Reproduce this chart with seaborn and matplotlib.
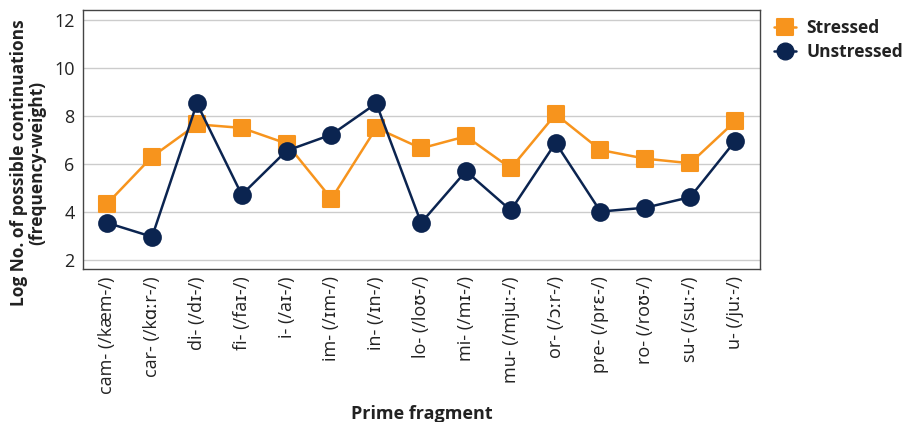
import matplotlib
matplotlib.use("Agg")
import matplotlib.pyplot as plt
from matplotlib.markers import MarkerStyle
from matplotlib.lines import Line2D
import seaborn as sns
import pandas as pd

fragments = [
    "cam- (/kæm-/)", "car- (/kɑːr-/)", "di- (/dɪ-/)", "fi- (/faɪ-/)",
    "i- (/aɪ-/)", "im- (/ɪm-/)", "in- (/ɪn-/)", "lo- (/loʊ-/)",
    "mi- (/mɪ-/)", "mu- (/mjuː-/)", "or- (/ɔːr-/)", "pre- (/prɛ-/)",
    "ro- (/roʊ-/)", "su- (/suː-/)", "u- (/juː-/)",
]
stressed = [4.35, 6.3, 7.65, 7.5, 6.85, 4.55, 7.5, 6.65, 7.15, 5.82,
            8.07, 6.58, 6.22, 6.03, 7.77]
unstressed = [3.55, 2.97, 8.52, 4.72, 6.55, 7.22, 8.52, 3.55, 5.7, 4.07,
              6.88, 4.02, 4.18, 4.62, 6.95]

series_names = ["Stressed", "Unstressed"]
colors = {"Stressed": "#F7941D", "Unstressed": "#0B2450"}

df = pd.DataFrame({
    "fragment": fragments * 2,
    "x": list(range(len(fragments))) * 2,
    "value": stressed + unstressed,
    "series": ["Stressed"] * len(fragments) + ["Unstressed"] * len(fragments),
})

sns.set_theme(style="white")
plt.rcParams["font.family"] = ["Open Sans", "DejaVu Sans"]

fig = plt.figure(figsize=(9.12, 4.22), dpi=100)
ax = fig.add_axes([0.091, 0.362, 0.742, 0.614])

sns.lineplot(data=df, x="x", y="value", hue="series", hue_order=series_names,
             palette=colors, linewidth=1.8, legend=False, ax=ax, zorder=3)

marker_shapes = {
    "Stressed": MarkerStyle("s", joinstyle="round"),
    "Unstressed": MarkerStyle("o"),
}
for line, name in zip(ax.get_lines(), series_names):
    line.set_marker(marker_shapes[name])
    line.set_markersize(11.5 if name == "Stressed" else 12)
    line.set_markerfacecolor(colors[name])
    line.set_markeredgecolor(colors[name])
    line.set_markeredgewidth(1.5)
    if name == "Unstressed":
        line.set_zorder(4)

ax.set_xlim(-0.54, 14.55)
ax.set_ylim(1.62, 12.4)
ax.set_yticks([2, 4, 6, 8, 10, 12])
ax.set_xticks(range(len(fragments)))
ax.set_xticklabels(fragments, rotation=90, fontsize=13, color="#222222")
ax.tick_params(axis="y", labelsize=13, labelcolor="#222222", length=0, pad=6)
ax.tick_params(axis="x", length=0, pad=5)

ax.yaxis.grid(True, color="#cccccc", linewidth=1.0)
ax.set_axisbelow(True)
for sp in ax.spines.values():
    sp.set_color("#444444")
    sp.set_linewidth(1.0)

ax.set_xlabel("Prime fragment", fontsize=13, fontweight="bold", color="#222222",
              labelpad=8)
ax.set_ylabel("Log No. of possible continuations\n(frequency-weight)",
              fontsize=12.5, fontweight="bold", color="#222222", labelpad=6,
              linespacing=1.0)
ax.yaxis.label.set_y(0.41)

handles = [
    Line2D([], [], color=colors["Stressed"], linewidth=1.8,
           marker=marker_shapes["Stressed"], markersize=11.5,
           markeredgewidth=1.5),
    Line2D([], [], color=colors["Unstressed"], linewidth=1.8,
           marker="o", markersize=12),
]
leg = ax.legend(handles, series_names, loc="upper left",
                bbox_to_anchor=(1.0, 1.02), frameon=False, fontsize=12.5,
                handlelength=1.3, handletextpad=0.6, labelspacing=0.35,
                borderaxespad=0.4)
for t in leg.get_texts():
    t.set_fontweight("bold")
    t.set_color("#222222")

fig.savefig("out.png", dpi=100)
